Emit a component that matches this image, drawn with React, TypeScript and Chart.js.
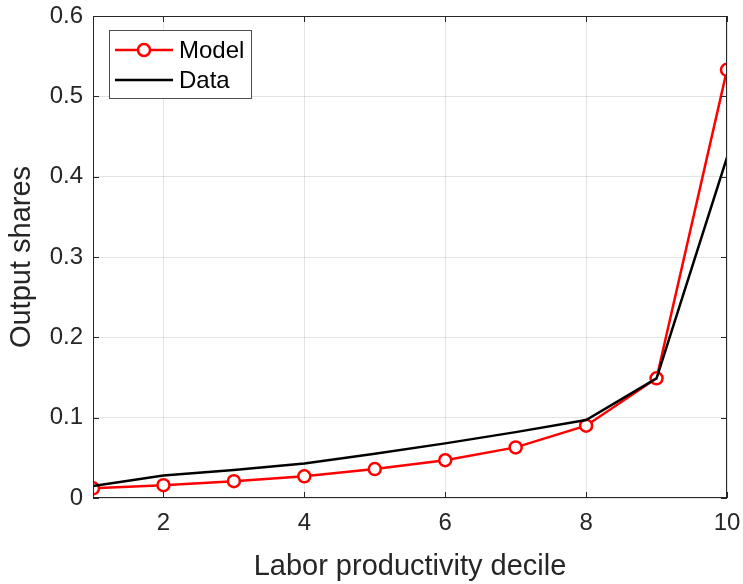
import React, { useEffect, useRef } from "react";
import { Chart, registerables } from "chart.js";

Chart.register(...registerables);

// Deciles 1..10 of labor productivity
const deciles = [1, 2, 3, 4, 5, 6, 7, 8, 9, 10];
const modelShares = [0.012, 0.016, 0.021, 0.027, 0.036, 0.047, 0.063, 0.090, 0.149, 0.533];
const dataShares = [0.015, 0.028, 0.035, 0.043, 0.055, 0.068, 0.082, 0.097, 0.149, 0.424];
const xTickValues = [2, 4, 6, 8, 10];
const seriesLabels = ["Model", "Data"];

const AXIS_COLOR = "#262626";
const FONT = "'Liberation Sans', Arial, Helvetica, sans-serif";

// Draws the closed axes box, inward tick marks and the in-plot legend
const boxPlugin = {
  id: "matlabBox",
  afterDraw(chart: any) {
    const { ctx, chartArea: a, scales } = chart;
    const xs = scales.x;
    const ys = scales.y;
    ctx.save();
    ctx.strokeStyle = AXIS_COLOR;
    ctx.lineWidth = 1;
    ctx.strokeRect(a.left + 0.5, a.top + 0.5, a.right - a.left - 1, a.bottom - a.top - 1);
    const tl = 6;
    ctx.beginPath();
    for (const v of xTickValues) {
      const px = Math.round(xs.getPixelForValue(v)) + 0.5;
      ctx.moveTo(px, a.bottom);
      ctx.lineTo(px, a.bottom - tl);
      ctx.moveTo(px, a.top);
      ctx.lineTo(px, a.top + tl);
    }
    for (const t of ys.ticks) {
      const py = Math.round(ys.getPixelForValue(t.value)) + 0.5;
      ctx.moveTo(a.left, py);
      ctx.lineTo(a.left + tl, py);
      ctx.moveTo(a.right, py);
      ctx.lineTo(a.right - tl, py);
    }
    ctx.stroke();

    // legend
    const lx = a.left + 16;
    const ly = a.top + 14;
    const lw = 142;
    const lh = 68;
    ctx.fillStyle = "#fff";
    ctx.fillRect(lx, ly, lw, lh);
    ctx.strokeStyle = "#4d4d4d";
    ctx.strokeRect(lx + 0.5, ly + 0.5, lw, lh);
    const ds = chart.data.datasets;
    const rows = [ly + 20, ly + 50];
    ds.forEach((d: any, i: number) => {
      const y = rows[i];
      ctx.strokeStyle = d.borderColor;
      ctx.lineWidth = d.borderWidth;
      ctx.beginPath();
      ctx.moveTo(lx + 6, y);
      ctx.lineTo(lx + 64, y);
      ctx.stroke();
      if (d.pointRadius > 0) {
        ctx.fillStyle = "#fff";
        ctx.lineWidth = d.pointBorderWidth;
        ctx.beginPath();
        ctx.arc(lx + 35, y, d.pointRadius, 0, Math.PI * 2);
        ctx.fill();
        ctx.stroke();
      }
      ctx.fillStyle = "#000";
      ctx.font = `24px ${FONT}`;
      ctx.textBaseline = "middle";
      ctx.textAlign = "left";
      ctx.fillText(d.label, lx + 70, y + 1);
    });
    ctx.restore();
  },
};

export default function App() {
  const ref = useRef<HTMLCanvasElement>(null);

  useEffect(() => {
    if (!ref.current) return;
    const chart = new Chart(ref.current, {
      type: "line",
      data: {
        datasets: [
          {
            label: seriesLabels[0],
            data: deciles.map((x, i) => ({ x, y: modelShares[i] })),
            borderColor: "#ff0000",
            backgroundColor: "#ffffff",
            borderWidth: 2.5,
            pointRadius: 6,
            pointBorderWidth: 2.5,
            pointBackgroundColor: "#ffffff",
            pointBorderColor: "#ff0000",
            tension: 0,
            order: 2,
          },
          {
            label: seriesLabels[1],
            data: deciles.map((x, i) => ({ x, y: dataShares[i] })),
            borderColor: "#000000",
            backgroundColor: "#000000",
            borderWidth: 2.5,
            pointRadius: 0,
            pointBorderWidth: 0,
            tension: 0,
            order: 1,
          },
        ],
      },
      options: {
        animation: false,
        responsive: false,
        devicePixelRatio: 1,
        layout: { padding: { top: 16, right: 16, left: 0, bottom: 0 } },
        plugins: { legend: { display: false }, tooltip: { enabled: false } },
        scales: {
          x: {
            type: "linear",
            min: 1,
            max: 10,
            afterBuildTicks: (s: any) => {
              s.ticks = xTickValues.map((v) => ({ value: v }));
            },
            afterFit: (s: any) => {
              s.height = 86;
              s.paddingLeft = 0;
              s.paddingRight = 0;
            },
            grid: { color: "rgba(38,38,38,0.13)", drawTicks: false },
            border: { display: false },
            ticks: {
              padding: 11,
              color: AXIS_COLOR,
              font: { family: FONT, size: 24 },
              maxRotation: 0,
              callback: (v: any) => String(v),
            },
            title: {
              display: true,
              text: "Labor productivity decile",
              color: AXIS_COLOR,
              font: { family: FONT, size: 29 },
              padding: { top: 0, bottom: 0 },
            },
          },
          y: {
            type: "linear",
            min: 0,
            max: 0.6,
            ticks: {
              stepSize: 0.1,
              padding: 10,
              color: AXIS_COLOR,
              font: { family: FONT, size: 24 },
              callback: (v: any) => (Math.abs(v) < 1e-9 ? "0" : Number(v).toFixed(1)),
            },
            afterFit: (s: any) => {
              s.width = 93;
              s.paddingTop = 0;
              s.paddingBottom = 0;
            },
            grid: { color: "rgba(38,38,38,0.13)", drawTicks: false },
            border: { display: false },
            title: {
              display: true,
              text: "Output shares",
              color: AXIS_COLOR,
              font: { family: FONT, size: 29 },
              padding: { top: 5, bottom: 0 },
            },
          },
        },
      },
      plugins: [boxPlugin],
    });
    return () => chart.destroy();
  }, []);

  return (
    <div style={{ position: "absolute", left: 0, top: 0, width: 743, height: 584, background: "#fff" }}>
      <canvas ref={ref} width={743} height={584} />
    </div>
  );
}
